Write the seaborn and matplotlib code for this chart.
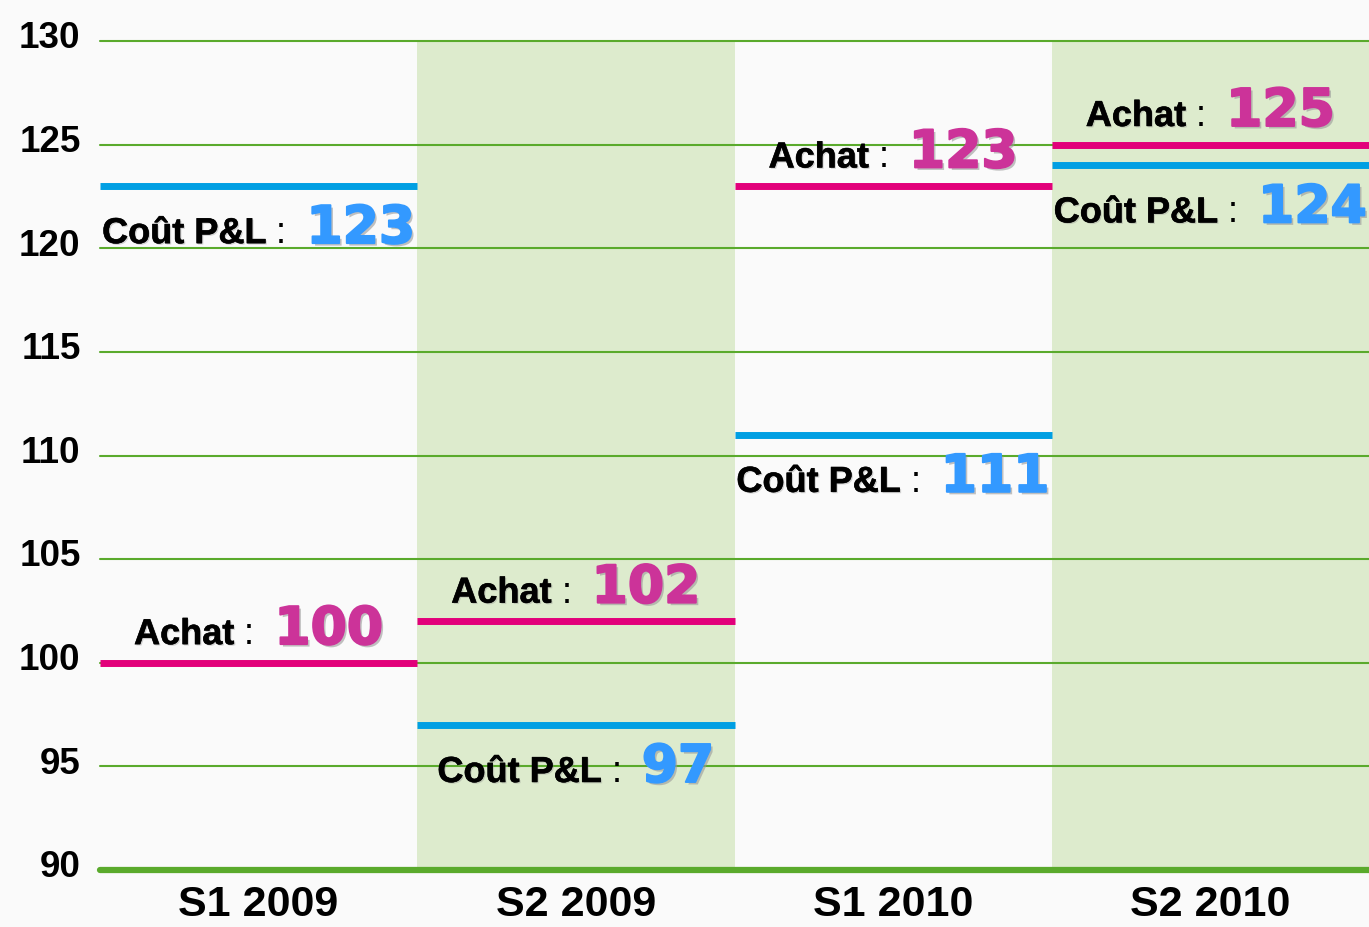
import matplotlib
matplotlib.use("Agg")
import matplotlib.pyplot as plt
import matplotlib.patheffects as pe
from matplotlib.offsetbox import TextArea, HPacker, AnnotationBbox
from matplotlib.transforms import ScaledTranslation
import seaborn as sns
import pandas as pd

# Half-year periods and the two indices per period
periods = ["S1 2009", "S2 2009", "S1 2010", "S2 2010"]
achat = [100, 102, 123, 125]
cout_pl = [123, 97, 111, 124]
y_ticks = [90, 95, 100, 105, 110, 115, 120, 125, 130]

BG = "#FAFAFA"
BAND = "#DDEBCD"
GRID = "#5AAA2C"
PINK_LINE = "#E2007A"
BLUE_LINE = "#009FE3"
PINK_TXT = "#CC3399"
BLUE_TXT = "#3399FF"

sns.set_theme(style="white", rc={"figure.facecolor": BG, "axes.facecolor": BG,
                                 "savefig.facecolor": BG})
plt.rcParams["font.family"] = ["Liberation Sans", "DejaVu Sans"]

df = pd.DataFrame({"period": periods, "Achat": achat, "Cout": cout_pl})
df["x"] = range(len(df))

fig = plt.figure(figsize=(13.69, 9.27), dpi=100)
ax = fig.add_axes([100 / 1369, 57 / 927, 1269 / 1369, 829 / 927])
ax.set_xlim(-0.5, len(periods) - 0.5)
ax.set_ylim(y_ticks[0], y_ticks[-1])

# alternate shaded columns for the second half-years
for i in df["x"]:
    if i % 2 == 1:
        ax.axvspan(i - 0.5, i + 0.5, color=BAND, lw=0, zorder=0)

# horizontal guide lines
for y in y_ticks[1:]:
    ax.axhline(y, color=GRID, lw=1.5, zorder=1, clip_on=False)
ax.axhline(y_ticks[0], color=GRID, lw=4.5, zorder=4, clip_on=False)

# one level segment per period and per series
ax.hlines(df["Achat"], df["x"] - 0.5, df["x"] + 0.5, color=PINK_LINE, lw=5, zorder=3)
ax.hlines(df["Cout"], df["x"] - 0.5, df["x"] + 0.5, color=BLUE_LINE, lw=5, zorder=3)

shadow_dark = [pe.SimplePatchShadow(offset=(1.0, -1.0), shadow_rgbFace="#888888", alpha=0.35),
               pe.Stroke(linewidth=0.4, foreground="black"), pe.Normal()]


def number_effects(color):
    return [pe.SimplePatchShadow(offset=(1.8, -1.8), shadow_rgbFace="#999999", alpha=0.6),
            pe.Stroke(linewidth=1.4, foreground=color), pe.Normal()]


def value_label(x, y, name, value, color, above):
    parts = [
        TextArea(name, textprops=dict(family="Liberation Sans", weight="bold", size=26,
                                      color="black", path_effects=shadow_dark)),
        TextArea(" :  ", textprops=dict(family="Liberation Sans", size=26, color="black")),
        TextArea(str(value), textprops=dict(family="DejaVu Sans", weight="bold", size=37.5,
                                            color=color, path_effects=number_effects(color))),
    ]
    box = HPacker(children=parts, align="baseline", pad=0, sep=0)
    dy = 5.5 if above else -13
    ab = AnnotationBbox(box, (x, y), xybox=(0, dy), xycoords="data",
                        boxcoords="offset points",
                        box_alignment=(0.5, 0 if above else 1),
                        frameon=False, pad=0, zorder=5)
    ax.add_artist(ab)


for _, row in df.iterrows():
    value_label(row["x"], row["Achat"], "Achat", row["Achat"], PINK_TXT, True)
    value_label(row["x"], row["Cout"], "Coût P&L", row["Cout"], BLUE_TXT, False)

ax.set_xticks(df["x"], df["period"])
ax.set_yticks(y_ticks, [str(v) for v in y_ticks])
ax.tick_params(axis="x", length=0, pad=11, labelsize=31)
ax.tick_params(axis="y", length=0, pad=14, labelsize=26.5)
for lab in ax.get_xticklabels() + ax.get_yticklabels():
    lab.set_fontweight("bold")
    lab.set_family("Liberation Sans")
    lab.set_color("black")
for lab in ax.get_yticklabels():
    lab.set_transform(lab.get_transform() + ScaledTranslation(0, 4.5 / 72, fig.dpi_scale_trans))

ax.grid(False)
sns.despine(ax=ax, left=True, bottom=True, top=True, right=True)

fig.savefig("out.png", dpi=100)
